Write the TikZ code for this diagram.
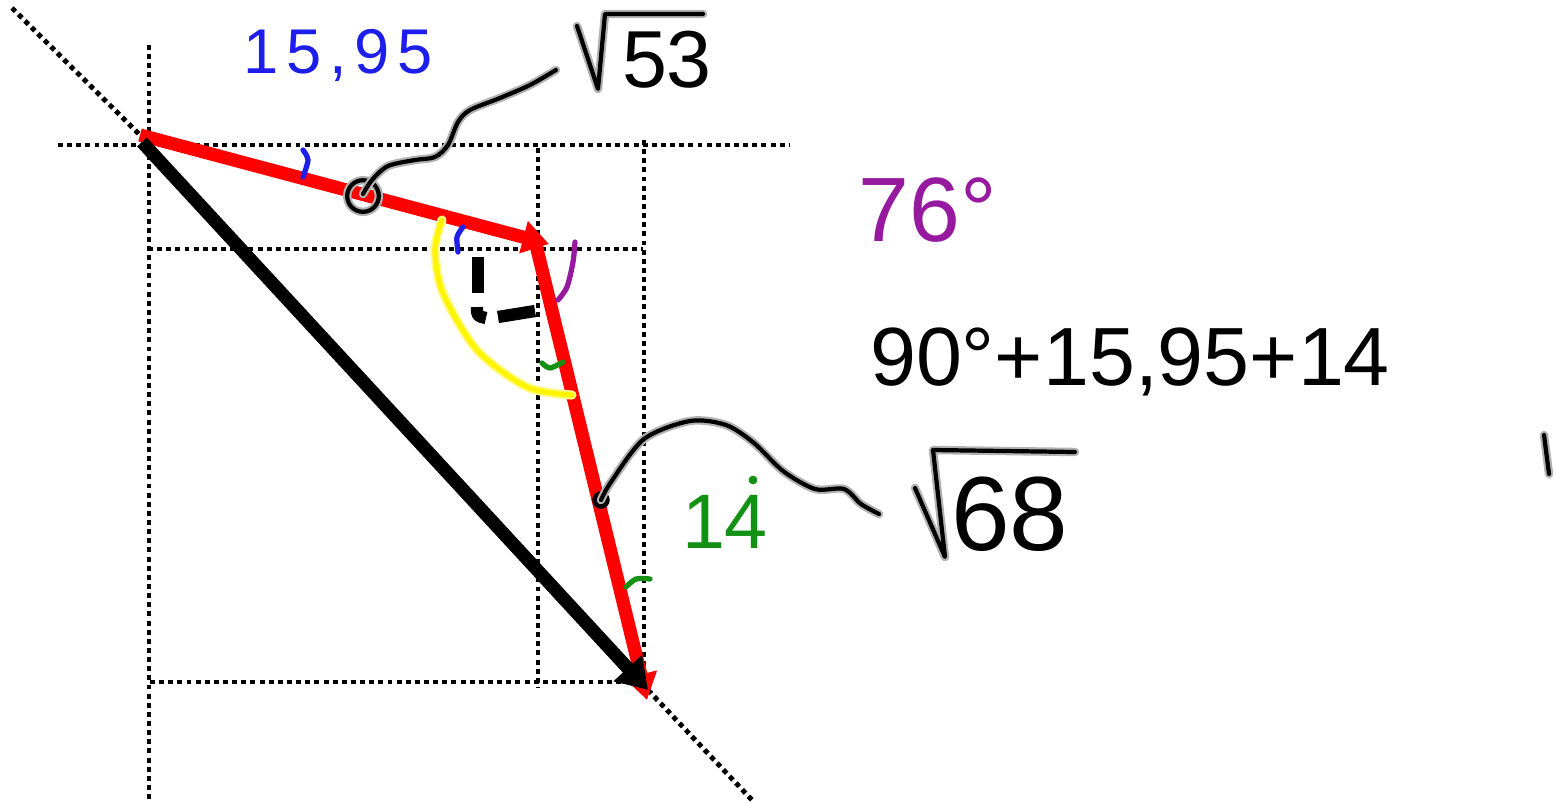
\documentclass[tikz,border=0pt]{standalone}
\usepackage{fontspec}
\setmainfont{Liberation Sans}
\usetikzlibrary{arrows.meta}
\definecolor{penBlue}{RGB}{30, 30, 235}
\definecolor{penPurple}{RGB}{150, 25, 160}
\definecolor{penGreen}{RGB}{20, 145, 20}
\definecolor{penYellow}{RGB}{255, 245, 0}

\begin{document}
\begin{tikzpicture}[x=0.02cm, y=-0.02cm, line cap=round, line join=round,
    guide/.style={line width=2.8pt, dash pattern=on 2.8pt off 2.4pt, line cap=butt},
    vec/.style={line width=7.5pt, line cap=butt, -{Triangle[length=15pt, width=18pt]}},
    pen/.style={line width=3pt},
    ink/.style={line width=2.4pt, preaction={draw, gray!60, line width=4.8pt}},
    hand/.style={inner sep=0pt}]
    \useasboundingbox (0,0) rectangle (1556,802);
    \coordinate (A) at (140,135);
    \coordinate (B) at (549,244);
    \coordinate (Bs) at (536,245);
    \coordinate (C) at (647,700);
    \coordinate (D) at (648,690);
    \draw[guide] (149,45) -- (149,800);
    \draw[guide] (58,145) -- (790,145);
    \draw[guide] (538,148) -- (538,688);
    \draw[guide] (644,140) -- (644,688);
    \draw[guide] (148,249) -- (643,249);
    \draw[guide] (150,682) -- (640,682);
    \draw[guide] (12,8) -- (A);
    \draw[guide] (D) -- (752,800);
    \draw[vec, red] (A) -- (B);
    \draw[vec, red] (Bs) -- (C);
    \draw[vec, black, -{Triangle[length=17pt, width=21pt]}] (142,142) -- (D);
    \draw[pen, penYellow, preaction={draw, penYellow!45, line width=5.2pt}]
        plot[smooth] coordinates {(442,220) (435,250) (443,293) (477,350) (527,387) (572,395)};
    \draw[black, line width=7pt, line cap=butt] (478,257) -- (478,293);
    \draw[black, line width=7pt, line cap=butt] (477,307) .. controls (477,316) .. (486,318);
    \draw[black, line width=7pt, line cap=butt] (498,317) -- (535,311);
    \draw[pen, penBlue] plot[smooth] coordinates {(303,150) (308,160) (303,177)};
    \draw[pen, penBlue] plot[smooth] coordinates {(463,227) (457,237) (458,252)};
    \draw[pen, penPurple] plot[smooth] coordinates {(575,242) (573,262) (567,287) (558,300)};
    \draw[pen, penGreen] plot[smooth] coordinates {(542,363) (550,368) (563,362)};
    \draw[pen, penGreen] plot[smooth] coordinates {(626,587) (636,579) (650,579)};
    \node[circle, draw, ink, minimum size=18pt, inner sep=0pt] (pinAB) at (363,196) {};
    \draw[ink] plot[smooth] coordinates {(363,194) (372,180) (388,166) (415,160) (435,157)
        (448,145) (458,122) (470,110) (500,98) (530,85) (556,70)};
    \coordinate (pinBC) at (601,500);
    \fill[black] (pinBC) circle (5pt);
    \draw[ink] plot[smooth] coordinates {(pinBC) (611,482) (644,439) (690,421) (726,425)
        (754,443) (783,471) (815,489) (844,489) (861,504) (879,514)};
    \node[hand, text=penBlue, font=\fontsize{36}{38}\selectfont\addfontfeature{LetterSpace=12}]
        (sideAB) at (338,55) {15,95};
    \node[hand, font=\fontsize{46}{48}\selectfont] (rootAB) at (667,60) {53};
    \draw[ink] (577,26) -- (598,89) -- (605,14) -- (703,14);
    \node[hand, text=penPurple, font=\fontsize{52}{54}\selectfont] (angB) at (928,210) {76°};
    \node[hand, font=\fontsize{47}{49}\selectfont] (sumAng) at (1130,362) {90°+15,95+14};
    \node[hand, font=\fontsize{60}{62}\selectfont] (rootBC) at (1010,514) {68};
    \draw[ink] (915,488) -- (945,557) -- (933,450) -- (1075,452);
    \node[hand, text=penGreen, font=\fontsize{44}{46}\selectfont] (sideBC) at (725,522) {14};
    \fill[penGreen] (753,480) circle (2.5pt);
    \draw[ink] (1544,435) -- (1549,474);
\end{tikzpicture}
\end{document}
